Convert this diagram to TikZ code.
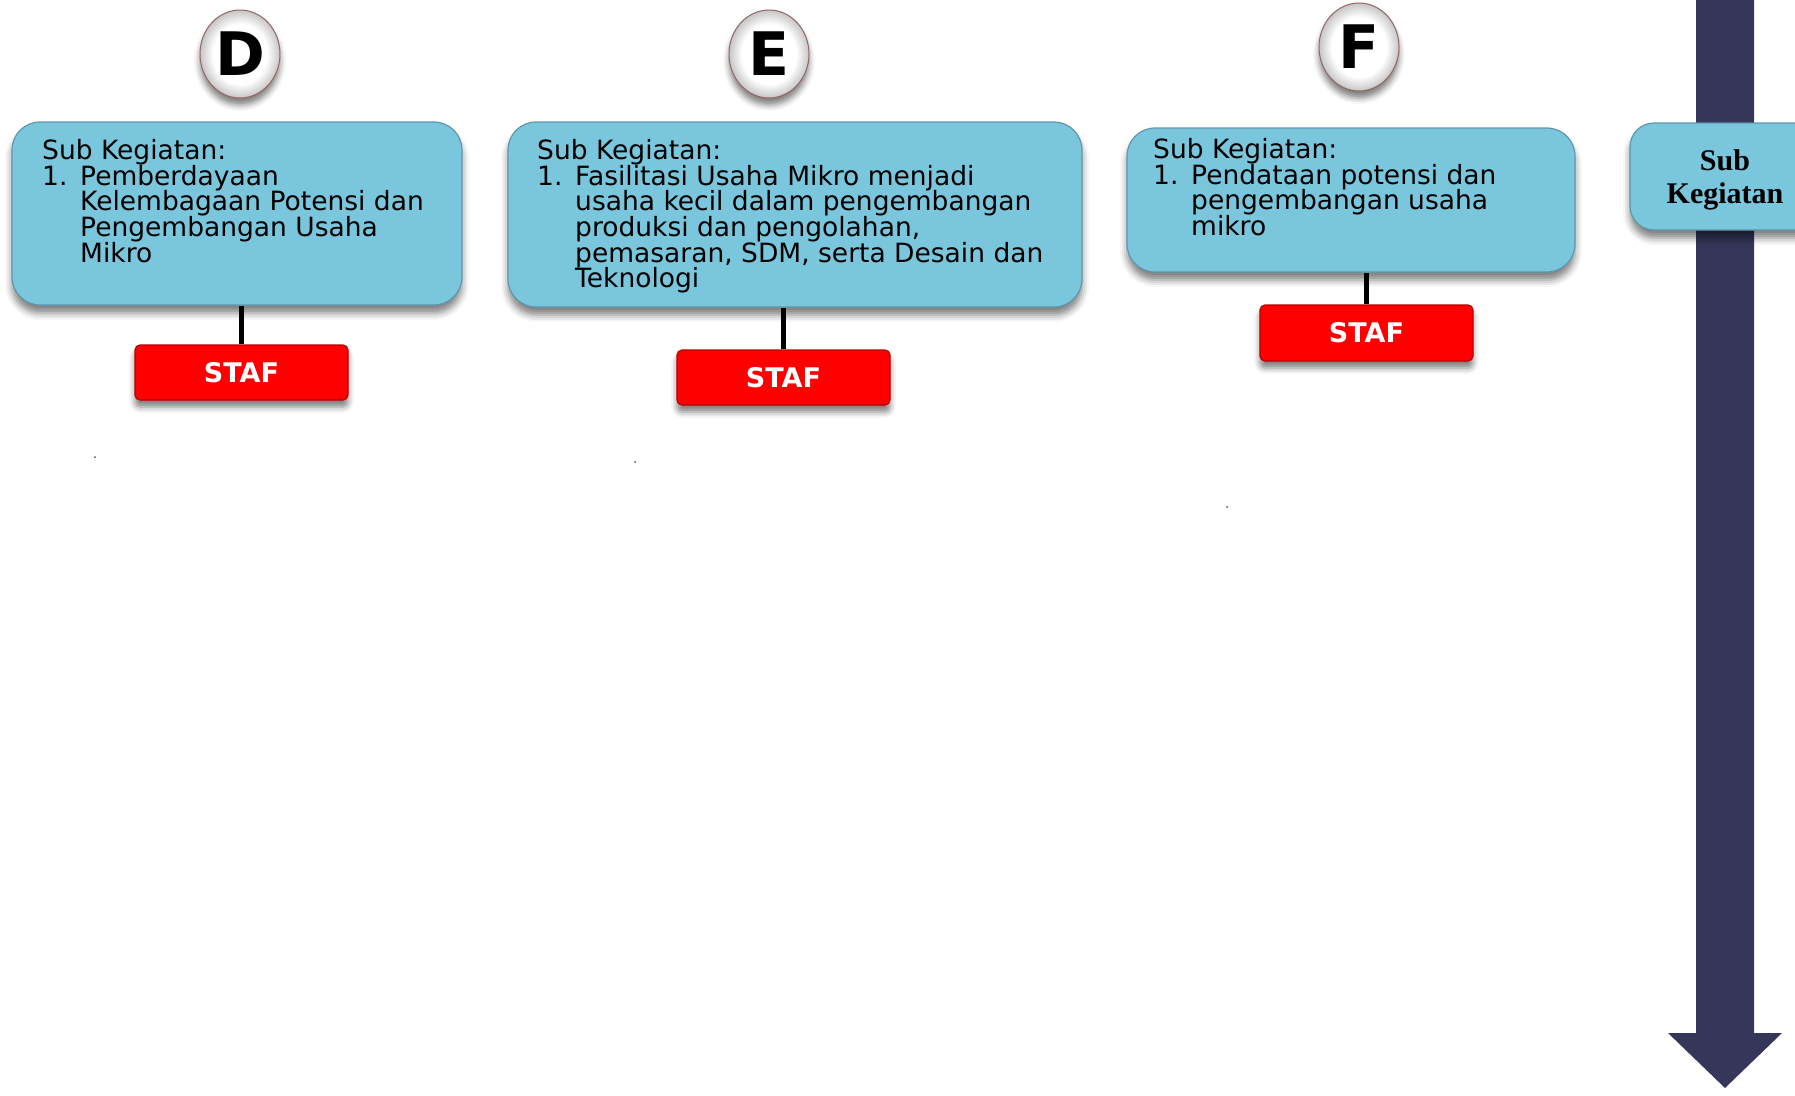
\documentclass[tikz,border=0pt]{standalone}
\usepackage{fontspec}
\setmainfont{DejaVu Sans}
\newfontfamily\titlefont{Liberation Serif}
\usepackage{tikz}
\usetikzlibrary{positioning, shapes, calc, shadows.blur}
\definecolor{boxblue}{RGB}{122,198,221}
\definecolor{boxedge}{RGB}{95,150,170}
\definecolor{stafred}{RGB}{255,0,0}
\definecolor{stafedge}{RGB}{185,0,0}
\definecolor{navy}{RGB}{53,54,90}
\definecolor{ringedge}{RGB}{150,100,100}
\pgfdeclareradialshading{ringshade}{\pgfpoint{0bp}{0bp}}{color(0bp)=(white); color(17bp)=(white); color(25bp)=(gray!45); color(50bp)=(gray!45)}
\newcommand{\subno}[1]{\makebox[38pt][l]{#1}}
\newcommand{\subind}{\hspace*{38pt}}
\tikzstyle{subbox} = [rectangle, rounded corners=28pt, fill=boxblue, draw=boxedge, line width=1.2pt, blur shadow={shadow xshift=0pt, shadow yshift=-8pt, shadow blur radius=7pt, shadow opacity=50}]
\tikzstyle{boxtext} = [anchor=north west, inner sep=0pt, align=left, font=\fontsize{26.5}{25.7}\selectfont]
\tikzstyle{staf} = [rectangle, rounded corners=5pt, fill=stafred, draw=stafedge, line width=1.2pt, text=white, font=\fontsize{27}{30}\selectfont\bfseries, minimum width=213pt, minimum height=55pt, blur shadow={shadow xshift=0pt, shadow yshift=-7pt, shadow blur radius=6pt, shadow opacity=50}]
\tikzstyle{letter} = [ellipse, minimum width=80pt, minimum height=88pt, inner sep=0pt, draw=ringedge, line width=1pt, shading=ringshade, font=\fontsize{60}{62}\selectfont\bfseries, blur shadow={shadow xshift=0pt, shadow yshift=-7pt, shadow blur radius=6pt, shadow opacity=50}]
\tikzstyle{line} = [-, line width=4.5pt]

\begin{document}
\begin{tikzpicture}[x=1pt, y=-1pt]
        \clip (0,0) rectangle (1795,1095);

        % Panah sub kegiatan
        \fill[navy] (1696,-5) -- (1754,-5) -- (1754,1033) -- (1782,1033) -- (1725,1088) -- (1668,1033) -- (1696,1033) -- cycle;
        \node[subbox, rounded corners=24pt, minimum width=220pt, minimum height=107pt] (sub_label) at (1740,176.5) {};
        \node[inner sep=0pt, align=center, font=\titlefont\bfseries\fontsize{30}{33}\selectfont] (sub_text) at (1725,180) {Sub\\Kegiatan};

        % Kolom D
        \node[letter] (head_d) at (240,54) {D};
        \node[subbox, minimum width=450pt, minimum height=183pt] (box_d) at (237,213.5) {};
        \node[boxtext] (text_d) at (42,139) {Sub Kegiatan:\\
            \subno{1.}Pemberdayaan\\
            \subind Kelembagaan Potensi dan\\
            \subind Pengembangan Usaha\\
            \subind Mikro};
        \node[staf] (staf_d) at (241.5,372.5) {STAF};
        \draw[line] (staf_d.north) -- (staf_d.north |- box_d.south);

        % Kolom E
        \node[letter] (head_e) at (769,54) {E};
        \node[subbox, minimum width=574pt, minimum height=185pt] (box_e) at (795,214.5) {};
        \node[boxtext] (text_e) at (537,139) {Sub Kegiatan:\\
            \subno{1.}Fasilitasi Usaha Mikro menjadi\\
            \subind usaha kecil dalam pengembangan\\
            \subind produksi dan pengolahan,\\
            \subind pemasaran, SDM, serta Desain dan\\
            \subind Teknologi};
        \node[staf] (staf_e) at (783.5,377.5) {STAF};
        \draw[line] (staf_e.north) -- (staf_e.north |- box_e.south);

        % Kolom F
        \node[letter] (head_f) at (1359,47) {F};
        \node[subbox, minimum width=448pt, minimum height=144pt] (box_f) at (1351,200) {};
        \node[boxtext] (text_f) at (1153,138) {Sub Kegiatan:\\
            \subno{1.}Pendataan potensi dan\\
            \subind pengembangan usaha\\
            \subind mikro};
        \node[staf, minimum height=56pt] (staf_f) at (1366.5,333) {STAF};
        \draw[line] (staf_f.north) -- (staf_f.north |- box_f.south);

        % Titik kecil
        \fill[boxedge!60!black] (95,457) circle (1pt);
        \fill[boxedge!60!black] (635,462) circle (1pt);
        \fill[boxedge!60!black] (1227,507) circle (1pt);
\end{tikzpicture}
\end{document}
